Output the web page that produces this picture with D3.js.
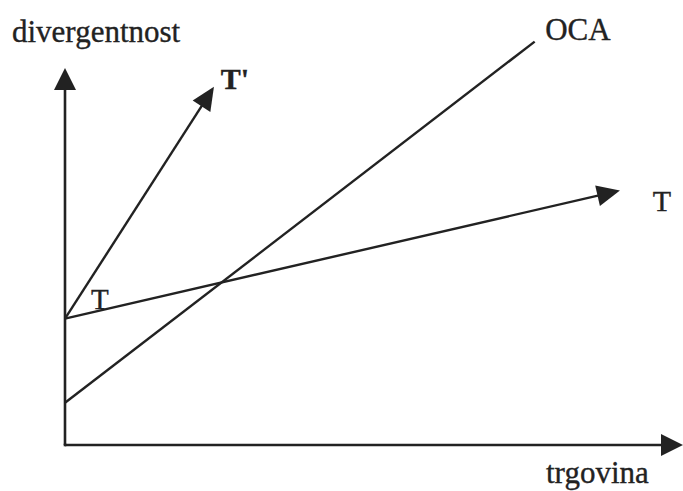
<!DOCTYPE html>
<html>
<head>
<meta charset="utf-8">
<script src="https://cdn.jsdelivr.net/npm/d3@7/dist/d3.min.js"></script>
<style>
  html, body { margin: 0; padding: 0; background: #fff; }
  svg { display: block; }
  text { font-family: "Liberation Serif", "Times New Roman", serif; fill: #222; stroke: #222; stroke-width: 0.35; }
</style>
</head>
<body>
<svg id="chart" width="683" height="491"></svg>
<script>
// Abstract diagram units (no numeric ticks in the original)
const axisNames = ["trgovina", "divergentnost"];
const xDomain = [0, 10];
const yDomain = [0, 10];

// Lines: [name, start point, end point, has arrowhead]
const lineNames = ["T", "T'", "OCA"];
const lineStarts = [[0, 3.35], [0, 3.35], [0, 1.12]];
const lineEnds = [[8.98, 6.75], [2.41, 9.5], [7.6, 10.7]];
const lineArrows = [true, true, false];

// Text labels anchored in data units
const labelTexts = ["T", "T'", "OCA", "T"];
const labelPos = [[9.51, 6.2], [2.52, 9.44], [7.77, 10.74], [0.42, 3.6]];
const labelBold = [false, true, false, false];
const labelSize = [30, 30, 31, 29];

const svg = d3.select("#chart");
const x = d3.scaleLinear().domain(xDomain).range([65, 683]);
const y = d3.scaleLinear().domain(yDomain).range([445, 68]);

const ink = "#222";

function arrowHead(x1, y1, x2, y2, len, half) {
  const dx = x2 - x1, dy = y2 - y1;
  const L = Math.hypot(dx, dy);
  const ux = dx / L, uy = dy / L;
  const bx = x2 - ux * len, by = y2 - uy * len;
  const px = -uy, py = ux;
  return [[x2, y2], [bx + px * half, by + py * half], [bx - px * half, by - py * half]];
}

// Axes
const axes = [
  [[xDomain[0], yDomain[0]], [xDomain[1], yDomain[0]]],
  [[xDomain[0], yDomain[0]], [xDomain[0], yDomain[1]]]
];
axes.forEach(([a, b]) => {
  const x1 = x(a[0]), y1 = y(a[1]), x2 = x(b[0]), y2 = y(b[1]);
  const L = Math.hypot(x2 - x1, y2 - y1);
  const k = (L - 18) / L;
  svg.append("line")
    .attr("x1", x1).attr("y1", y1)
    .attr("x2", x1 + (x2 - x1) * k).attr("y2", y1 + (y2 - y1) * k)
    .attr("stroke", ink).attr("stroke-width", 2.6);
  svg.append("polygon")
    .attr("points", arrowHead(x1, y1, x2, y2, 22, 11).map(p => p.join(",")).join(" "))
    .attr("fill", ink);
});
// square corner at origin
svg.append("rect").attr("x", x(0) - 1.3).attr("y", y(0) - 1.3).attr("width", 2.6).attr("height", 2.6).attr("fill", ink);

// Diagram lines
lineNames.forEach((name, i) => {
  const x1 = x(lineStarts[i][0]), y1 = y(lineStarts[i][1]);
  const x2 = x(lineEnds[i][0]), y2 = y(lineEnds[i][1]);
  let ex = x2, ey = y2;
  if (lineArrows[i]) {
    const L = Math.hypot(x2 - x1, y2 - y1);
    const k = (L - 16) / L;
    ex = x1 + (x2 - x1) * k; ey = y1 + (y2 - y1) * k;
  }
  svg.append("line")
    .attr("x1", x1).attr("y1", y1).attr("x2", ex).attr("y2", ey)
    .attr("stroke", ink).attr("stroke-width", 2.4);
  if (lineArrows[i]) {
    svg.append("polygon")
      .attr("points", arrowHead(x1, y1, x2, y2, 23, 10.5).map(p => p.join(",")).join(" "))
      .attr("fill", ink);
  }
});

// Labels
labelTexts.forEach((t, i) => {
  svg.append("text")
    .attr("x", x(labelPos[i][0])).attr("y", y(labelPos[i][1]))
    .attr("font-size", labelSize[i])
    .attr("font-weight", labelBold[i] ? "bold" : "normal")
    .text(t);
});

// Axis titles
svg.append("text").attr("x", 12).attr("y", 42).attr("font-size", 31).text(axisNames[1]);
svg.append("text").attr("x", 546).attr("y", 483).attr("font-size", 31).text(axisNames[0]);
</script>
</body>
</html>
